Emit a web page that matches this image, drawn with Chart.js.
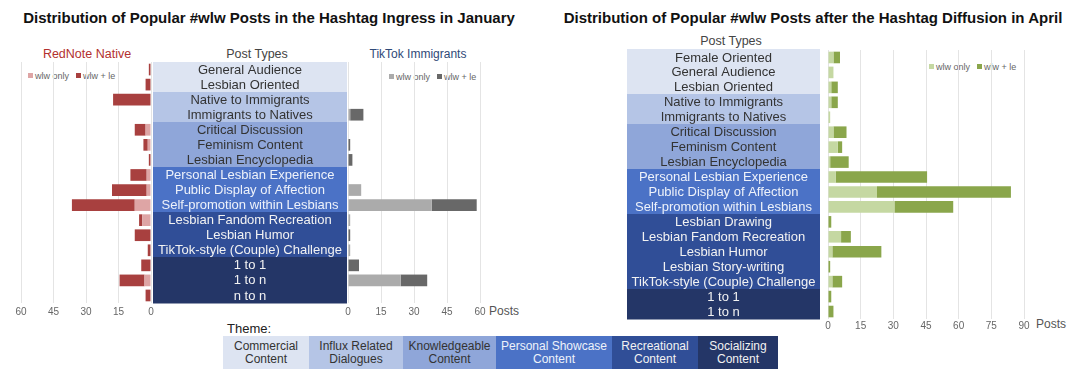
<!DOCTYPE html>
<html>
<head>
<meta charset="utf-8">
<script src="https://cdn.jsdelivr.net/npm/chart.js@4.4.1/dist/chart.umd.min.js"></script>
<style>
  html, body { margin:0; padding:0; background:#fff; }
  body { width:1076px; height:388px; position:relative; overflow:hidden; font-family:"Liberation Sans", Arial, sans-serif; }
  .abs { position:absolute; white-space:nowrap; }
  canvas { position:absolute; }
  .title { font-weight:bold; font-size:15px; color:#111; text-align:center; line-height:15px; }
  .hdr { font-size:12.5px; line-height:13px; text-align:center; }
  .lg { font-size:9px; color:#666; line-height:9px; }
  .lg i { display:inline-block; width:5px; height:5px; margin-right:2px; vertical-align:1px; }
  .lg span { margin-right:7px; }
  .theme { position:absolute; top:336px; height:33px; font-size:12px; line-height:12.5px; text-align:center; display:flex; align-items:center; justify-content:center; }
</style>
</head>
<body>
<div class="abs title" style="left:0; width:538px; top:10px;">Distribution of Popular #wlw Posts in the Hashtag Ingress in January</div>
<div class="abs title" style="left:546px; width:534px; top:10px;">Distribution of Popular #wlw Posts after the Hashtag Diffusion in April</div>

<div class="abs hdr" style="left:37px; width:100px; top:48px; color:#b3302e;">RedNote Native</div>
<div class="abs hdr" style="left:207px; width:100px; top:48px; color:#444;">Post Types</div>
<div class="abs hdr" style="left:368px; width:100px; top:48px; color:#2f4a78; font-size:12px;">TikTok Immigrants</div>
<div class="abs hdr" style="left:681px; width:100px; top:35px; color:#444;">Post Types</div>

<div class="abs lg" id="lgA" style="left:28px; top:72px;"></div>
<div class="abs lg" id="lgB" style="left:389px; top:73px;"></div>
<div class="abs lg" id="lgC" style="left:929px; top:63px;"></div>

<div class="abs" style="left:489px; top:305px; font-size:12px; line-height:13px; color:#555;">Posts</div>
<div class="abs" style="left:1036px; top:318px; font-size:12px; line-height:13px; color:#555;">Posts</div>

<div class="abs" style="left:227px; top:322px; font-size:13px; line-height:13px; color:#222;">Theme:</div>
<div id="themeLegend"></div>

<canvas id="cA" width="162" height="261" style="left:0; top:62px;"></canvas>
<canvas id="cB" width="340" height="261" style="left:153px; top:62px;"></canvas>
<canvas id="cC" width="449" height="290" style="left:627px; top:49px;"></canvas>

<script>
// ---------- DATA ----------
const januaryCategories = ['General Audience','Lesbian Oriented','Native to Immigrants','Immigrants to Natives','Critical Discussion','Feminism Content','Lesbian Encyclopedia','Personal Lesbian Experience','Public Display of Affection','Self-promotion within Lesbians','Lesbian Fandom Recreation','Lesbian Humor','TikTok-style (Couple) Challenge','1 to 1','1 to n','n to n'];
const januaryThemeOf = [0,0,1,1,2,2,2,3,3,3,4,4,4,5,5,5];

const rednoteWlwOnly = [0, 0, 0,   0, 2.5, 1.5, 0, 2,   2,  7.5, 4,   0,   0,   0,   3,    0];
const rednoteWlwLe   = [1, 2.5, 17.5, 0, 5, 2, 1, 7.5, 16, 29,  1.5, 7.5, 1.5, 4.5, 11.5, 2.5];

const tiktokWlwOnly  = [0, 0, 0, 1, 0, 0, 0, 0, 6, 38,   1, 0, 1, 0, 24, 0];
const tiktokWlwLe    = [0, 0, 0, 6, 0, 1, 2, 0, 0, 20.5, 0, 1, 0, 5, 12, 0];

const aprilCategories = ['Female Oriented','General Audience','Lesbian Oriented','Native to Immigrants','Immigrants to Natives','Critical Discussion','Feminism Content','Lesbian Encyclopedia','Personal Lesbian Experience','Public Display of Affection','Self-promotion within Lesbians','Lesbian Drawing','Lesbian Fandom Recreation','Lesbian Humor','Lesbian Story-writing','TikTok-style (Couple) Challenge','1 to 1','1 to n'];
const aprilThemeOf = [0,0,0,1,1,2,2,2,3,3,3,4,4,4,4,4,5,5];

const aprilWlwOnly = [2.5, 2.5, 1.5, 1.5, 1, 2.5, 4.5, 1,   3.5, 22.5, 30.5, 0,   6,   2,    0, 2,   0,   0];
const aprilWlwLe   = [3,   0,   3,   3,   0, 6,   2,   8.5, 42,  61.5, 27,   1.5, 4.5, 22.5, 1, 4.5, 1.5, 2.5];

const januaryTicks = [0, 15, 30, 45, 60];
const aprilTicks   = [0, 15, 30, 45, 60, 75, 90];

const seriesNames = ['wlw only', 'wlw + le'];
const themeNames = ['Commercial\nContent','Influx Related\nDialogues','Knowledgeable\nContent','Personal Showcase\nContent','Recreational\nContent','Socializing\nContent'];

// ---------- STYLE ----------
const themeFill = ['#dde4f2','#b5c5e6','#8fa6d9','#4b72c6','#304e97','#243667'];
const themeText = ['#333333','#333333','#333333','#eef2fa','#f2f2f2','#f2f2f2'];
const redColors   = ['#dea5a5','#a8403f'];
const grayColors  = ['#ababab','#686868'];
const greenColors = ['#c5d8a2','#8aa64b'];

Chart.defaults.font.family = '"Liberation Sans", Arial, sans-serif';
Chart.defaults.animation = false;

// theme legend (HTML)
const themeBoxes = [[223,86],[309,94],[403,93],[496,116],[612,86],[698,80]];
const tl = document.getElementById('themeLegend');
themeNames.forEach((n, i) => {
  const d = document.createElement('div');
  d.className = 'theme';
  d.style.left = themeBoxes[i][0] + 'px';
  d.style.width = themeBoxes[i][1] + 'px';
  d.style.background = themeFill[i];
  d.style.color = themeText[i];
  d.innerHTML = n.replace('\n', '<br>');
  tl.appendChild(d);
});

function makeLegend(id, colors) {
  document.getElementById(id).innerHTML = seriesNames.map((s, i) =>
    `<span><i style="background:${colors[i]}"></i>${s}</span>`).join('');
}
makeLegend('lgA', redColors);
makeLegend('lgB', grayColors);
makeLegend('lgC', greenColors);

// label block plugin
const labelBlock = {
  id: 'labelBlock',
  beforeDatasetsDraw(chart, args, opts) {
    if (!opts || !opts.categories) return;
    const { ctx, chartArea } = chart;
    const y = chart.scales.y;
    const n = opts.categories.length;
    const rowH = (chartArea.bottom - chartArea.top) / n;
    const x0 = chartArea.left - opts.gap - opts.width;
    ctx.save();
    for (let i = 0; i < n; i++) {
      const yc = y.getPixelForValue(i);
      const t = opts.themeOf[i];
      ctx.fillStyle = themeFill[t];
      const top = (i === 0) ? chartArea.top - (opts.extendTop || 0) : yc - rowH / 2;
      ctx.fillRect(x0, Math.floor(top), opts.width, Math.ceil(yc + rowH / 2) - Math.floor(top) + 0.5);
    }
    ctx.font = '13px "Liberation Sans", Arial, sans-serif';
    ctx.textAlign = 'center';
    ctx.textBaseline = 'middle';
    for (let i = 0; i < n; i++) {
      const yc = y.getPixelForValue(i);
      ctx.fillStyle = themeText[opts.themeOf[i]];
      ctx.fillText(opts.categories[i], x0 + opts.width / 2, yc + 0.5);
    }
    ctx.restore();
  }
};

function makeChart(id, cats, only, le, colors, ticks, reverse, padding, block, tickPad) {
  return new Chart(document.getElementById(id), {
    type: 'bar',
    data: {
      labels: cats,
      datasets: [
        { label: seriesNames[0], data: only, backgroundColor: colors[0], categoryPercentage: 0.8, barPercentage: 0.97 },
        { label: seriesNames[1], data: le,   backgroundColor: colors[1], categoryPercentage: 0.8, barPercentage: 0.97 }
      ]
    },
    options: {
      indexAxis: 'y',
      responsive: false,
      devicePixelRatio: 1,
      layout: { padding: padding },
      plugins: { legend: { display: false }, tooltip: { enabled: false }, labelBlock: block },
      scales: {
        x: {
          stacked: true, reverse: reverse,
          min: ticks[0], max: ticks[ticks.length - 1],
          afterBuildTicks: s => { s.ticks = ticks.map(v => ({ value: v })); },
          afterFit: s => { s.height = 20; },
          grid: { color: '#e4e4e4', lineWidth: 1, drawTicks: false },
          border: { display: false },
          ticks: { color: '#666', font: { size: 10 }, padding: tickPad, maxRotation: 0 }
        },
        y: { stacked: true, display: false }
      }
    },
    plugins: [labelBlock]
  });
}

makeChart('cA', januaryCategories, rednoteWlwOnly, rednoteWlwLe, redColors, januaryTicks, true,
  { left: 21, right: 11, top: 0, bottom: 0 }, {}, 3);
makeChart('cB', januaryCategories, tiktokWlwOnly, tiktokWlwLe, grayColors, januaryTicks, false,
  { left: 195, right: 13, top: 0, bottom: 0 },
  { categories: januaryCategories, themeOf: januaryThemeOf, width: 194, gap: 1 }, 3);
makeChart('cC', aprilCategories, aprilWlwOnly, aprilWlwLe, greenColors, aprilTicks, false,
  { left: 201, right: 52, top: 1, bottom: 0 },
  { categories: aprilCategories, themeOf: aprilThemeOf, width: 193, gap: 8, extendTop: 1 }, 1);
</script>
</body>
</html>
